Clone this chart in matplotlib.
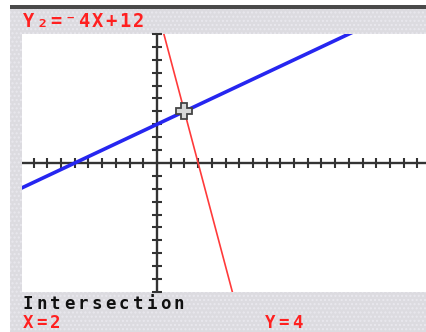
import matplotlib
matplotlib.use('Agg')
import matplotlib.pyplot as plt
import numpy as np
from matplotlib.patches import Rectangle

# Graph screen: two lines and their intersection
line_a = (0.5, 3)      # Y1 = 0.5X + 3
line_b = (-4, 12)      # Y2 = -4X + 12
x_window = (-9.85, 19.7)
y_window = (-10, 10)
x_ticks = np.arange(-9, 20)
y_ticks = np.arange(-10, 11)
header = 'Y\u2082=\u207b4X+12'
footer = 'Intersection'
x_label = 'X=2'
y_label = 'Y=4'

W, H = 427, 332
fig = plt.figure(figsize=(W / 100, H / 100), dpi=100)
fig.patch.set_facecolor('white')


def px_rect(x0, y0, x1, y1, **kw):
    # rectangle given in pixel coords from the top-left corner
    fig.patches.append(Rectangle((x0 / W, 1 - y1 / H), (x1 - x0) / W, (y1 - y0) / H,
                                 transform=fig.transFigure, figure=fig, zorder=-5, **kw))


def px_text(x, y, s, color, pitch=13.7, size=12.5):
    # fixed-pitch calculator style text, baseline at pixel y
    for i, ch in enumerate(s):
        fig.text((x + i * pitch) / W, 1 - y / H, ch, color=color, fontsize=size,
                 family='DejaVu Sans Mono', weight='bold', va='baseline', ha='left')


# screen bezel
px_rect(10, 8, W, H, facecolor='#dcdbe0', edgecolor='#e9e8ee', hatch='....', linewidth=0)
px_rect(10, 5, W, 9, facecolor='#4a4a4a', edgecolor='none')

ax = fig.add_axes([22 / W, 1 - 292 / H, (W - 22) / W, (292 - 34) / H])
ax.set_facecolor('white')
ax.set_xlim(*x_window)
ax.set_ylim(*y_window)
for s in ax.spines.values():
    s.set_visible(False)
ax.set_xticks([])
ax.set_yticks([])

# axes with tick crosses
ax.axhline(0, color='#333333', lw=1.7, zorder=2)
ax.axvline(0, color='#333333', lw=1.7, zorder=2)
xt = x_ticks[x_ticks != 0]
yt = y_ticks[y_ticks != 0]
ax.plot(xt, np.zeros_like(xt), ls='none', marker='|', ms=7, mew=1.5, color='#333333',
        zorder=2, clip_on=False)
ax.plot(np.zeros_like(yt), yt, ls='none', marker='_', ms=7, mew=1.5, color='#333333',
        zorder=2, clip_on=False)

xs = np.linspace(x_window[0], x_window[1], 400)
ax.plot(xs, line_a[0] * xs + line_a[1], color='#2626f0', lw=2.6, zorder=3)
ax.plot(xs, line_b[0] * xs + line_b[1], color='#ff3a3a', lw=1.2, zorder=3)

# intersection cursor
xi = (line_b[1] - line_a[1]) / (line_a[0] - line_b[0])
yi = line_a[0] * xi + line_a[1]
ax.plot([xi], [yi], marker='P', ms=12, mfc='#d8d8d8', mec='#444444', mew=1.3, zorder=4)

px_text(23, 27, header, '#ff2020', size=13.5)
px_text(23, 309, footer, '#111111')
px_text(23, 328, x_label, '#ff2020')
px_text(265, 328, y_label, '#ff2020')

fig.savefig('out.png', dpi=100)
